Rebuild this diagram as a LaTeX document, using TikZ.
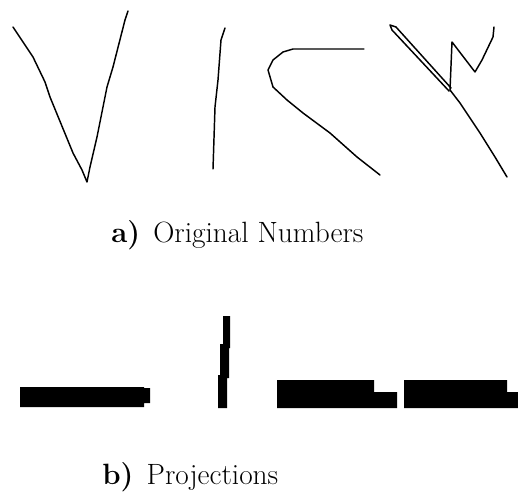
\documentclass[tikz,border=0pt]{standalone}
\usepackage{tikz}

\begin{document}
\begin{tikzpicture}[
        x=0.75pt, y=-0.75pt,
        pen/.style={line width=1.1pt, line join=round, line cap=round},
        bar/.style={fill=black},
        caption/.style={anchor=base west, inner sep=0pt, font=\fontsize{22}{26}\selectfont}
      ]
      \useasboundingbox (0,0) rectangle (518,496);
      % a) handwritten digits
      \draw[pen] (13,27) -- (23,42) -- (33,57) -- (45,82) -- (50,97) -- (73,153) -- (82,170) -- (87,182)
                 -- (90,167) -- (97,137) -- (107,87) -- (113,67) -- (125,20) -- (128,11);
      \draw[pen] (213,169) -- (215,107) -- (218,80) -- (221,40) -- (225,28);
      \draw[pen] (364,49) -- (293,49) -- (283,52) -- (273,60) -- (268,70) -- (273,87) -- (287,100)
                 -- (303,113) -- (330,133) -- (357,157) -- (380,175);
      \draw[pen] (449,91) -- (392,30) -- (390,25) -- (396,27) -- (451,88);
      \draw[pen] (450,90) -- (452,42) -- (475,72) -- (482,60) -- (493,37) -- (494,27);
      \draw[pen] (450,90) -- (460,103) -- (480,133) -- (495,157) -- (507,177);
      \node[caption] (capa) at (111,242) {\textbf{a)}\hspace{0.45em}Original Numbers};
      % b) projections
      \fill[bar] (20,387) rectangle (144,407) (144,388) rectangle (150,403);
      \fill[bar] (223,316) rectangle (230,348) (220,344) rectangle (229,378) (218,375) rectangle (227,408);
      \fill[bar] (277,380) rectangle (374,408) (374,392) rectangle (397,408);
      \fill[bar] (404,380) rectangle (507,408) (507,392) rectangle (518,408);
      \node[caption] (capb) at (102,484) {\textbf{b)}\hspace{0.45em}Projections};
    \end{tikzpicture}
\end{document}
